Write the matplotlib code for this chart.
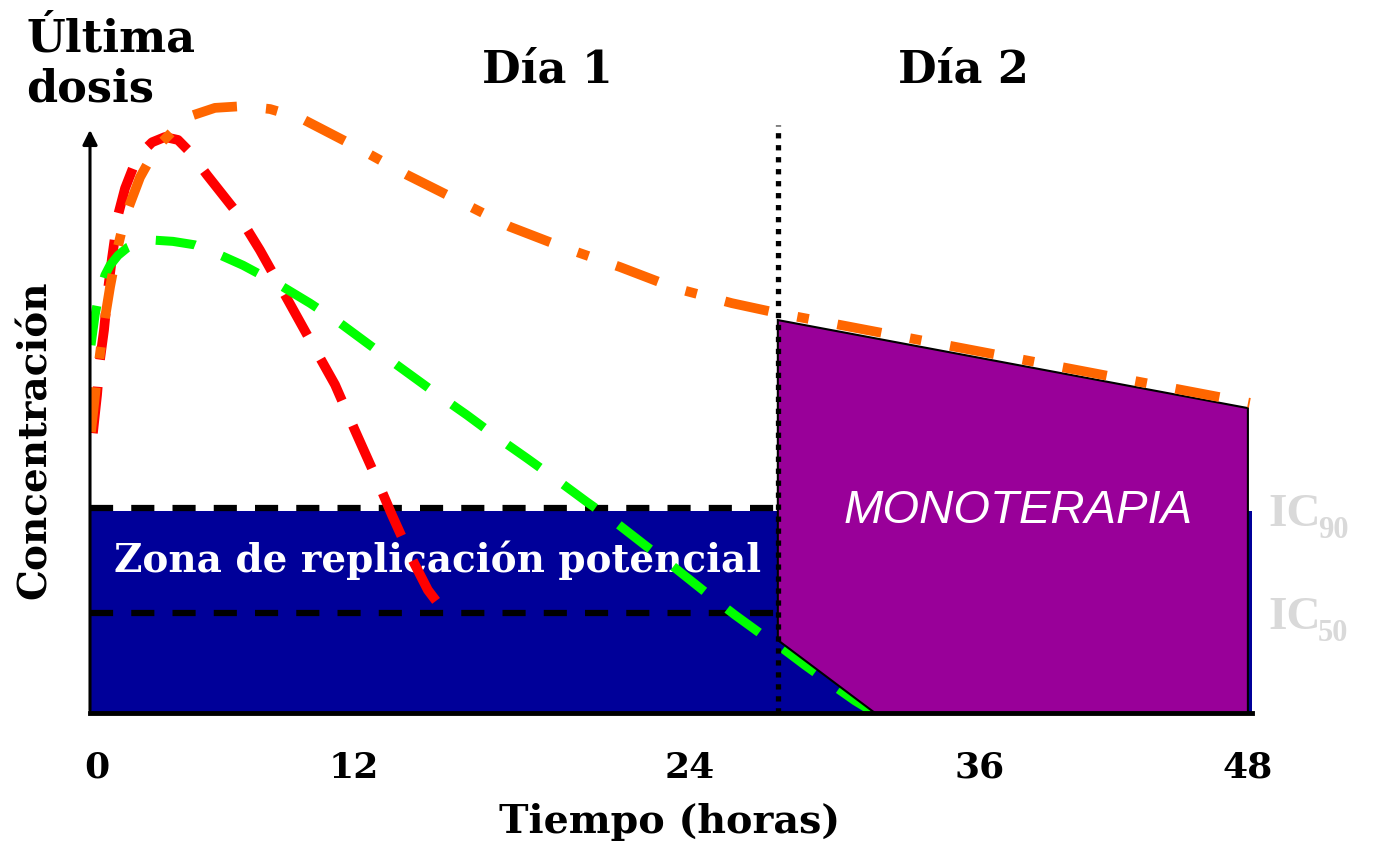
import matplotlib
matplotlib.use("Agg")
import matplotlib.pyplot as plt
from matplotlib.patches import Polygon, Rectangle

plt.rcParams['font.family'] = ['DejaVu Serif', 'DejaVu Sans']

# datos (tiempo en horas, concentración en unidades arbitrarias)
t_naranja = [0.04, 0.29, 0.54, 0.83, 1.12, 1.45, 2.07, 2.77, 4.01, 5.17, 6.33, 7.45,
             8.69, 10.88, 13.12, 15.19, 17.38, 19.57, 21.93, 24.20, 26.56, 28.46, 47.99]
c_naranja = [48.2, 57.6, 65.7, 73.1, 79.4, 85.1, 91.9, 97.1, 102.2, 103.8, 104.1, 103.6,
             102.1, 97.4, 92.3, 88.0, 83.4, 79.9, 76.5, 72.9, 70.3, 68.6, 53.2]

t_rojo = [0.12, 0.29, 0.41, 0.58, 0.74, 0.91, 1.16, 1.45, 1.78, 2.15, 2.57, 3.10, 3.64,
          4.14, 4.84, 6.08, 7.03, 8.07, 9.10, 10.14, 10.96, 11.79, 12.49, 13.24, 13.98, 14.69]
c_rojo = [48.0, 54.5, 60.5, 65.7, 72.5, 78.0, 85.4, 90.0, 93.5, 96.2, 97.9, 98.8, 98.3,
          96.2, 92.3, 85.8, 79.4, 71.7, 64.0, 56.3, 48.5, 40.8, 34.0, 27.1, 21.1, 17.2]

t_verde = [0.04, 0.21, 0.37, 0.62, 0.83, 1.16, 1.57, 2.07, 2.69, 3.43, 4.34, 5.09, 6.33,
           7.86, 9.10, 10.34, 11.58, 12.83, 14.19, 15.60, 16.84, 18.08, 19.32, 20.56,
           21.72, 22.96, 24.20, 25.44, 26.69, 27.72, 28.46, 29.58, 30.62, 31.65, 32.48]
c_verde = [63.1, 68.3, 71.7, 75.1, 76.8, 78.5, 79.9, 80.8, 81.1, 80.9, 80.3, 79.1, 76.8,
           73.4, 70.3, 66.9, 63.1, 59.3, 55.2, 51.1, 47.3, 43.7, 40.0, 36.2,
           32.8, 28.8, 24.9, 20.8, 16.8, 13.7, 11.7, 8.2, 5.1, 2.1, 0.0]

# zona de monoterapia (vértices)
t_mono = [28.46, 47.91, 47.91, 32.48, 28.46]
c_mono = [67.4, 52.3, 0.0, 0.0, 12.5]

ic90 = 35.2
ic50 = 17.2
t_dia2 = 28.46   # inicio día 2 (línea punteada)
t_fin = 48.08

tick_pos = [0.3, 10.9, 24.8, 36.8, 47.9]
tick_lab = ['0', '12', '24', '36', '48']

fig = plt.figure(figsize=(13.74, 8.47), dpi=100)
ax = fig.add_axes([90 / 1374, 134 / 847, 1162 / 1374, 711 / 847])
ax.set_xlim(0, t_fin)
ax.set_ylim(0, 121.96)

# zona azul
ax.add_patch(Rectangle((0, 0), t_fin, ic90 - 0.5, facecolor='#000099', edgecolor='none', zorder=1))
ax.plot([0, t_dia2], [ic90, ic90], color='black', lw=4.5, linestyle=(0, (3.7, 2.9)), zorder=2)
ax.plot([0, t_dia2], [ic50, ic50], color='black', lw=4.5, linestyle=(0, (3.7, 2.9)), zorder=2)

ax.text(1.0, 26.2, 'Zona de replicación potencial', color='white', fontsize=28,
        fontweight='bold', ha='left', va='center', zorder=2.5)

# curvas
ax.plot(t_rojo, c_rojo, color='#ff0000', lw=7, linestyle=(0, (4.8, 2.8)), zorder=3)
ax.plot(t_verde, c_verde, color='#00ff00', lw=6.5, linestyle=(0, (4.4, 3.2)), zorder=3)

ax.add_patch(Polygon(list(zip(t_mono, c_mono)), closed=True, facecolor='#990099',
                     edgecolor='black', lw=1.5, zorder=4))
ax.text(38.4, 34.7, 'MONOTERAPIA', color='white', fontsize=34, style='italic',
        family='Liberation Sans', ha='center', va='center', zorder=5)

ax.plot(t_naranja, c_naranja, color='#ff6600', lw=7, linestyle=(0, (4.6, 3.0, 1.2, 3.0)), zorder=5)

ax.plot([t_dia2, t_dia2], [0, 100.9], color='black', lw=3.8, linestyle=(0, (1.0, 1.27)), zorder=6)

# ejes
for s in ['top', 'right', 'left']:
    ax.spines[s].set_visible(False)
ax.spines['bottom'].set_linewidth(3.5)
ax.spines['bottom'].set_zorder(7)
ax.annotate('', xy=(0, 100.5), xytext=(0, 0),
            arrowprops=dict(arrowstyle='-|>', lw=2.2, color='black', mutation_scale=22),
            annotation_clip=False, zorder=7)
ax.set_yticks([])
ax.set_xticks(tick_pos)
ax.set_xticklabels(tick_lab, fontsize=26, fontweight='bold')
ax.tick_params(axis='x', length=0, pad=27)

# textos
fig.text(26 / 1374, 1 - 64 / 847, 'Última\ndosis', fontsize=32, fontweight='bold',
         ha='left', va='center', linespacing=1.2, multialignment='left')
fig.text(547 / 1374, 1 - 70 / 847, 'Día 1', fontsize=32, fontweight='bold', ha='center', va='center')
fig.text(963 / 1374, 1 - 70 / 847, 'Día 2', fontsize=32, fontweight='bold', ha='center', va='center')
fig.text(35 / 1374, 1 - 440 / 847, 'Concentración', fontsize=28, fontweight='bold',
         rotation=90, ha='center', va='center')
fig.text(670 / 1374, 1 - 822 / 847, 'Tiempo (horas)', fontsize=28.5, fontweight='bold',
         ha='center', va='center')

gris = '#d9d9d9'
fig.text(1268 / 1374, 1 - 515 / 847, 'IC', fontsize=34, fontweight='bold', color=gris,
         family='Liberation Serif', va='center')
fig.text(1318 / 1374, 1 - 530 / 847, '90', fontsize=22, fontweight='bold', color=gris,
         family='Liberation Serif', va='center')
fig.text(1268 / 1374, 1 - 618 / 847, 'IC', fontsize=34, fontweight='bold', color=gris,
         family='Liberation Serif', va='center')
fig.text(1318 / 1374, 1 - 633 / 847, '50', fontsize=22, fontweight='bold', color=gris,
         family='Liberation Serif', va='center')

fig.savefig('out.png', dpi=100)
